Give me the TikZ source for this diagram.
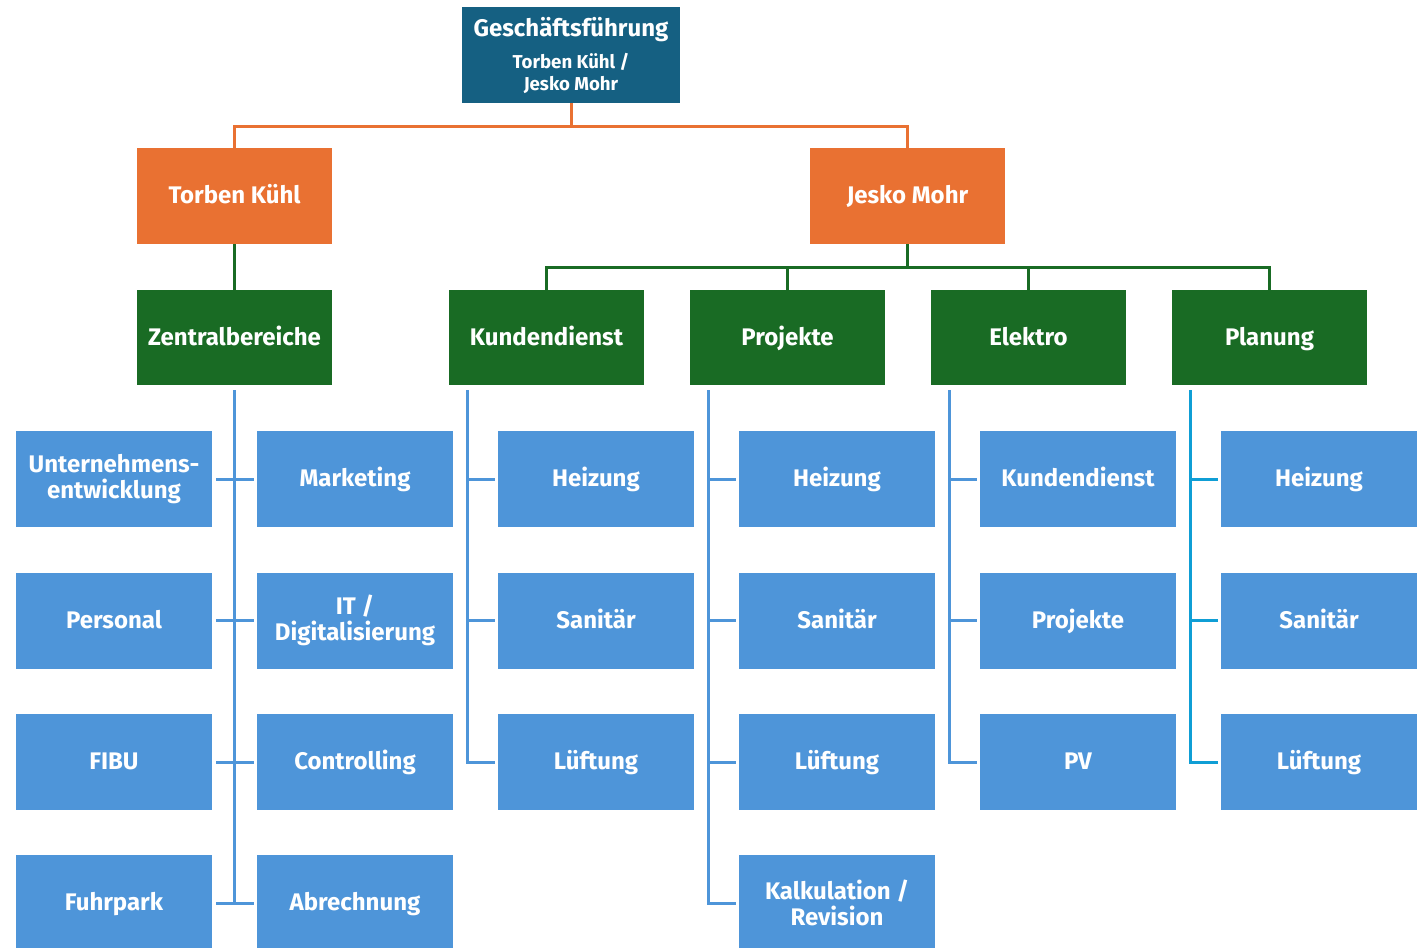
\documentclass[tikz,border=0pt]{standalone}
\usepackage{fontspec}
\setmainfont{Fira Sans}
\usetikzlibrary{positioning}
\definecolor{gfblue}{HTML}{156082}
\definecolor{leadorange}{HTML}{E97132}
\definecolor{deptgreen}{HTML}{196B24}
\definecolor{unitblue}{HTML}{4E95D9}
\definecolor{cyanline}{HTML}{0F9ED5}
\newcommand{\subfont}{\fontsize{14}{17}\selectfont}
\begin{document}
\begin{tikzpicture}[x=0.75pt, y=-0.75pt, line width=2.25pt,
  box/.style = {rectangle, outer sep=0pt, inner sep=2pt, text=white, align=center,
                font=\bfseries\fontsize{18}{20}\selectfont,
                text height=1.15em, text depth=0pt},
  twoline/.style = {text height={}, text depth={}},
  head/.style = {box, twoline, fill=gfblue, minimum width=163.5pt, minimum height=72pt},
  lead/.style = {box, fill=leadorange, minimum width=146.25pt, minimum height=72pt},
  dept/.style = {box, fill=deptgreen, minimum width=146.25pt, minimum height=71.25pt},
  unit/.style = {box, fill=unitblue, minimum width=147pt, minimum height=72pt},
  oline/.style = {draw=leadorange},
  gline/.style = {draw=deptgreen},
  bline/.style = {draw=unitblue, shorten >=2.25pt},
  cline/.style = {draw=cyanline, shorten >=2.25pt}]
  \clip (0,0) rectangle (1418,947);

  % Geschaeftsfuehrung
  \node[head] (gf) at (571,55) {Geschäftsführung\\[4pt]
    \subfont Torben Kühl /\\[-3.5pt]\subfont Jesko Mohr};

  % Leitung
  \node[lead] (tk) at (234.5,196) {Torben Kühl};
  \node[lead] (jm) at (907.5,196) {Jesko Mohr};

  % Bereiche
  \node[dept] (zb) at (234.5,337.5) {Zentralbereiche};
  \node[dept] (kd) at (546.5,337.5) {Kundendienst};
  \node[dept] (pj) [right=34.5pt of kd] {Projekte};
  \node[dept] (el) [right=34.5pt of pj] {Elektro};
  \node[dept] (pl) [right=34.5pt of el] {Planung};

  % Zentralbereiche
  \node[unit, twoline] (zl1) at (114,479) {Unternehmens-\\entwicklung};
  \node[unit] (zl2) at (114,620.5) {Personal};
  \node[unit] (zl3) at (114,762) {FIBU};
  \node[unit] (zl4) at (114,903) {Fuhrpark};
  \node[unit] (zr1) at (355,479) {Marketing};
  \node[unit, twoline] (zr2) at (355,620.5) {IT /\\Digitalisierung};
  \node[unit] (zr3) at (355,762) {Controlling};
  \node[unit] (zr4) at (355,903) {Abrechnung};

  % Kundendienst
  \node[unit] (kd1) at (596,479) {Heizung};
  \node[unit] (kd2) at (596,620.5) {Sanitär};
  \node[unit] (kd3) at (596,762) {Lüftung};

  % Projekte
  \node[unit] (pj1) at (837,479) {Heizung};
  \node[unit] (pj2) at (837,620.5) {Sanitär};
  \node[unit] (pj3) at (837,762) {Lüftung};
  \node[unit, twoline] (pj4) at (837,903) {Kalkulation /\\Revision};

  % Elektro
  \node[unit] (el1) at (1078,479) {Kundendienst};
  \node[unit] (el2) at (1078,620.5) {Projekte};
  \node[unit] (el3) at (1078,762) {PV};

  % Planung
  \node[unit] (pl1) at (1319,479) {Heizung};
  \node[unit] (pl2) at (1319,620.5) {Sanitär};
  \node[unit] (pl3) at (1319,762) {Lüftung};

  % orange Linien
  \draw[oline] (gf.south) -- ++(0,23);
  \draw[oline] (tk.north) -- ++(0,-22) -| (jm.north);

  % gruene Linien
  \draw[gline] (tk) -- (zb);
  \draw[gline] (jm.south) -- ++(0,23);
  \draw[gline] (kd.north) -- ++(0,-23) -| (pl.north);
  \draw[gline] (pj.north) -- ++(0,-23);
  \draw[gline] (el.north) -- ++(0,-23);

  % blaue Linien
  \coordinate (ztop) at ([yshift=-3.75pt]zb.south);
  \draw[draw=unitblue] (ztop) -- (ztop |- zr4.west);
  \draw[draw=unitblue, shorten <=3pt, shorten >=2.25pt] (zl1.east) -- (zr1.west);
  \draw[draw=unitblue, shorten <=3pt, shorten >=2.25pt] (zl2.east) -- (zr2.west);
  \draw[draw=unitblue, shorten <=3pt, shorten >=2.25pt] (zl3.east) -- (zr3.west);
  \draw[draw=unitblue, shorten <=3pt, shorten >=2.25pt] (zl4.east) -- (zr4.west);

  \coordinate (kdtop) at ([shift={(18,5)}]kd.south west);
  \draw[bline] (kdtop) |- (kd3.west);
  \draw[bline] (kdtop |- kd1.west) -- (kd1.west);
  \draw[bline] (kdtop |- kd2.west) -- (kd2.west);

  \coordinate (pjtop) at ([shift={(18,5)}]pj.south west);
  \draw[bline] (pjtop) |- (pj4.west);
  \draw[bline] (pjtop |- pj1.west) -- (pj1.west);
  \draw[bline] (pjtop |- pj2.west) -- (pj2.west);
  \draw[bline] (pjtop |- pj3.west) -- (pj3.west);

  \coordinate (eltop) at ([shift={(18,5)}]el.south west);
  \draw[bline] (eltop) |- (el3.west);
  \draw[bline] (eltop |- el1.west) -- (el1.west);
  \draw[bline] (eltop |- el2.west) -- (el2.west);

  \coordinate (pltop) at ([shift={(18,5)}]pl.south west);
  \draw[cline] (pltop) |- (pl3.west);
  \draw[cline] (pltop |- pl1.west) -- (pl1.west);
  \draw[cline] (pltop |- pl2.west) -- (pl2.west);
\end{tikzpicture}
\end{document}
